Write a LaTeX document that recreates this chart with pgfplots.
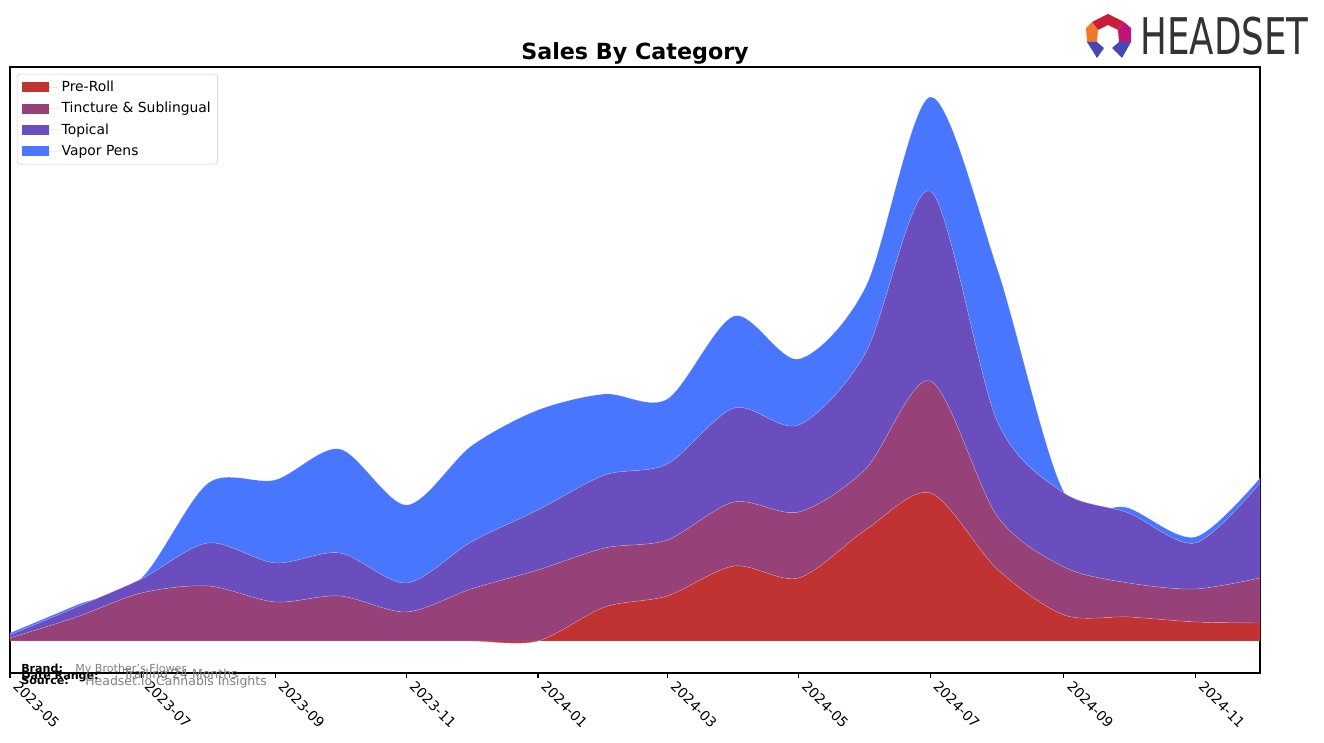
\documentclass[border=0pt]{standalone}
\usepackage{fontspec}
\setmainfont{DejaVu Sans}
\usepackage{pgfplots}
\pgfplotsset{compat=1.18}
\usepackage{pgfplotstable}
\definecolor{cPR}{RGB}{193,50,50}
\definecolor{cTI}{RGB}{150,66,120}
\definecolor{cTO}{RGB}{106,78,190}
\definecolor{cVP}{RGB}{72,118,255}
\definecolor{txtgray}{RGB}{128,128,128}
\definecolor{logogray}{RGB}{51,51,51}
% day offset from 2023-05-01, value (pixel units)
\pgfplotstableread{
d v
0 0
31 0
61 0
92 0
123 0
153 0
184 0
214 0
245 0
276 34
305 45
336 75
366 63
397 111
427 148
458 72
489 26
519 24
550 19
580 18
}\preroll
\pgfplotstableread{
d v
0 3
31 24
61 48
92 55
123 39
153 45
184 29
214 52
245 71
276 59
305 56
336 64
366 66
397 61
427 112
458 53
489 48
519 34
550 33
580 45
}\tincture
\pgfplotstableread{
d v
0 3
31 10
61 14
92 43
123 39
153 43
184 29
214 47
245 60
276 73
305 76
336 94
366 87
397 116
427 190
458 95
489 74
519 70
550 46
580 95
}\topical
\pgfplotstableread{
d v
0 2
31 2
61 1
92 60
123 83
153 104
184 78
214 96
245 100
276 81
305 65
336 92
366 66
397 66
427 94
458 153
489 1
519 5
550 6
580 5
}\vapor
\begin{document}
\begin{tikzpicture}[x=0.72pt,y=0.72pt]
\path[use as bounding box] (0,0) rectangle (1324,743);
\begin{axis}[
  at={(7.2pt,50.4pt)}, anchor=south west,
  scale only axis, width=900pt, height=436.32pt,
  xmin=0, xmax=580, ymin=-32, ymax=574,
  stack plots=y,
  axis line style={line width=0.8pt},
  ytick=\empty,
  xtick={0,61,123,184,245,305,366,427,489,550},
  xticklabels={2023-05,2023-07,2023-09,2023-11,2024-01,2024-03,2024-05,2024-07,2024-09,2024-11},
  tick align=outside, xtick pos=bottom,
  major tick length=3.5pt,
  tick style={line width=0.8pt, black},
  xticklabel style={font=\fontsize{10}{12}\selectfont, inner sep=1pt, xshift=7pt, rotate=-45, anchor=north west},
  legend style={at={(0,1)}, anchor=north west, xshift=5pt, yshift=-5pt,
    draw=black!20, rounded corners=2pt, font=\fontsize{10}{12}\selectfont,
    row sep=2.2pt, inner xsep=3pt, inner ysep=3pt},
  legend cell align=left,
  legend image code/.code={\fill[#1, draw=none, sharp corners] (0.5pt,-3.6pt) rectangle (20pt,3.6pt); \path[draw=none] (0pt,0pt) -- (27pt,0pt);},
]
\addplot[fill=cPR, draw=white, draw opacity=0.3, line width=0.3pt, smooth] table[x=d,y=v] {\preroll} \closedcycle;
\addlegendentry{Pre-Roll}
\addplot[fill=cTI, draw=white, draw opacity=0.3, line width=0.3pt, smooth] table[x=d,y=v] {\tincture} \closedcycle;
\addlegendentry{Tincture \& Sublingual}
\addplot[fill=cTO, draw=white, draw opacity=0.3, line width=0.3pt, smooth] table[x=d,y=v] {\topical} \closedcycle;
\addlegendentry{Topical}
\addplot[fill=cVP, draw=white, draw opacity=0.3, line width=0.3pt, smooth] table[x=d,y=v] {\vapor} \closedcycle;
\addlegendentry{Vapor Pens}
\end{axis}
% title
\node[font=\bfseries\fontsize{16}{19}\selectfont] at (635,690) {Sales By Category};
% footer
\node[anchor=base west, inner sep=0pt, font=\bfseries\fontsize{8}{9}\selectfont] at (21,70) {Brand:};
\node[anchor=base west, inner sep=0pt, text=txtgray, font=\fontsize{8}{9}\selectfont] at (75,70) {My Brother's Flower};
\node[anchor=base west, inner sep=0pt, font=\bfseries\fontsize{8}{9}\selectfont] at (21,63.5) {Date Range:};
\node[anchor=base west, inner sep=0pt, text=txtgray, font=\fontsize{9}{10}\selectfont] at (123,64) {Trailing 24 Months};
\node[anchor=base west, inner sep=0pt, font=\bfseries\fontsize{8}{9}\selectfont] at (21,58) {Source:};
\node[anchor=base west, inner sep=0pt, text=txtgray, font=\fontsize{9}{10}\selectfont] at (85,57.5) {Headset.io Cannabis Insights};
% logo
\fill[color={rgb,255:red,200;green,30;blue,60}] (1092,721) -- (1108,729) -- (1124,721) -- (1118,713) -- (1108,718) -- (1098,713) -- cycle;
\fill[color={rgb,255:red,240;green,120;blue,40}] (1092,721) -- (1098,713) -- (1097,701) -- (1087,701) -- (1086,715) -- cycle;
\fill[color={rgb,255:red,190;green,20;blue,120}] (1124,721) -- (1131,715) -- (1131,701) -- (1119,701) -- (1118,713) -- cycle;
\fill[color={rgb,255:red,70;green,70;blue,180}] (1087,701) -- (1097,701) -- (1104,695) -- (1097,685) -- cycle;
\fill[color={rgb,255:red,70;green,70;blue,180}] (1119,701) -- (1131,701) -- (1122,685) -- (1112,695) -- cycle;
\node[anchor=south west, inner sep=0pt, text=logogray] at (1140,687) {\resizebox{121pt}{27pt}{HEADSET}};
\end{tikzpicture}
\end{document}
